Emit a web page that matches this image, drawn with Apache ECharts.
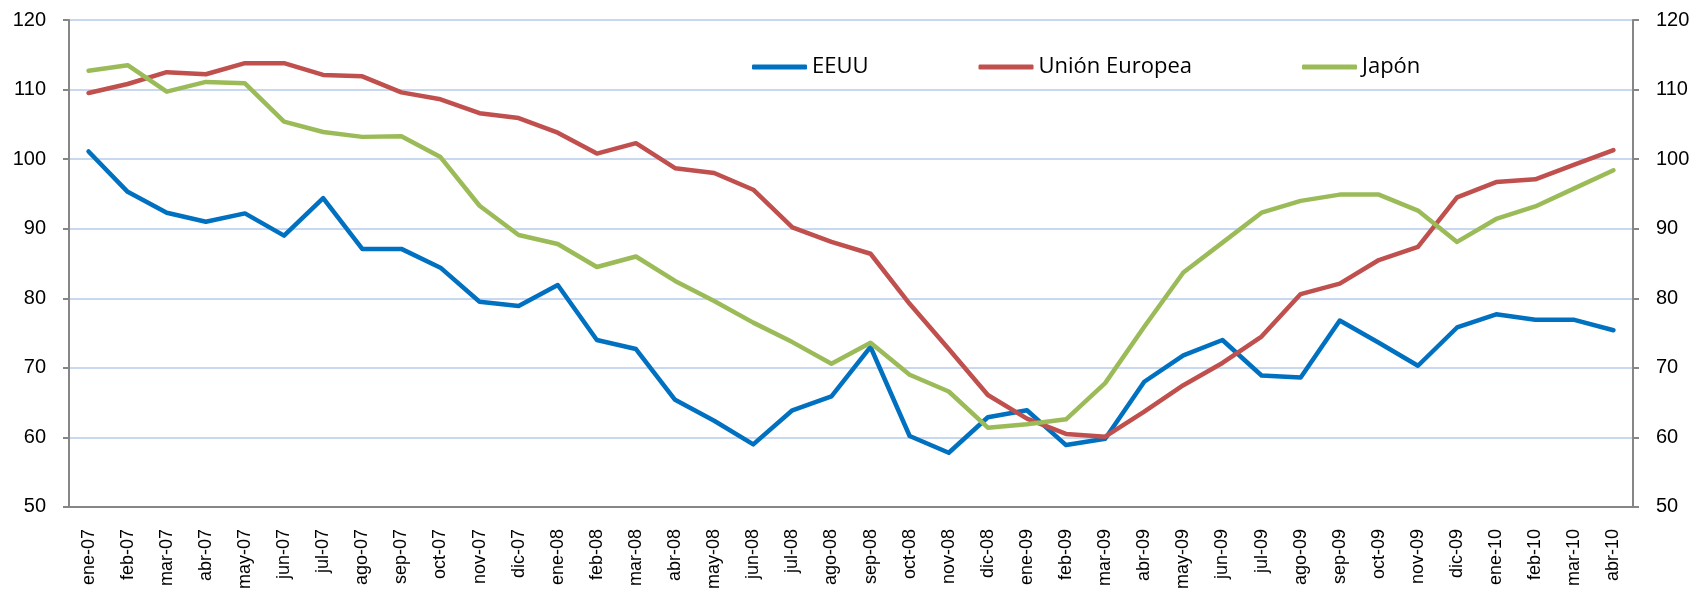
<!DOCTYPE html>
<html>
<head>
<meta charset="utf-8">
<script src="https://cdn.jsdelivr.net/npm/echarts@6/dist/echarts.min.js"></script>
<style>
html,body{margin:0;padding:0;background:#fff;}
#chart{width:1702px;height:592px;}
</style>
</head>
<body>
<div id="chart"></div>
<script>
const categories = ['ene-07','feb-07','mar-07','abr-07','may-07','jun-07','jul-07','ago-07','sep-07','oct-07','nov-07','dic-07',
  'ene-08','feb-08','mar-08','abr-08','may-08','jun-08','jul-08','ago-08','sep-08','oct-08','nov-08','dic-08',
  'ene-09','feb-09','mar-09','abr-09','may-09','jun-09','jul-09','ago-09','sep-09','oct-09','nov-09','dic-09',
  'ene-10','feb-10','mar-10','abr-10'];

const eeuu = [101.1,95.3,92.3,91.0,92.2,89.0,94.4,87.1,87.1,84.4,79.5,78.9,
  81.9,74.0,72.7,65.4,62.4,59.0,63.9,65.9,73.0,60.2,57.8,62.9,
  63.9,58.9,59.8,68.0,71.8,74.0,68.9,68.6,76.8,73.6,70.3,75.8,
  77.7,76.9,76.9,75.4];

const ue = [109.5,110.8,112.5,112.2,113.8,113.8,112.1,111.9,109.6,108.6,106.6,105.9,
  103.8,100.8,102.3,98.7,98.0,95.6,90.2,88.1,86.4,79.2,72.7,66.1,
  62.7,60.5,60.1,63.7,67.5,70.7,74.5,80.6,82.1,85.5,87.4,94.5,
  96.7,97.1,99.2,101.3];

const japon = [112.7,113.5,109.7,111.1,110.9,105.4,103.9,103.2,103.3,100.3,93.3,89.1,
  87.8,84.5,86.0,82.5,79.6,76.5,73.7,70.6,73.6,69.0,66.6,61.4,
  61.9,62.6,67.8,75.9,83.7,88.0,92.3,94.0,94.9,94.9,92.6,88.1,
  91.4,93.2,95.8,98.4];

const yTicks = {min: 50, max: 120, interval: 10};

const chart = echarts.init(document.getElementById('chart'), null, {renderer: 'canvas'});

const fontArial = '"Liberation Sans", Arial, sans-serif';

function yAxis(pos) {
  return {
    type: 'value', position: pos,
    min: yTicks.min, max: yTicks.max, interval: yTicks.interval,
    axisLine: {show: true, lineStyle: {color: '#868686', width: 2}},
    axisTick: {show: true, length: 6, inside: false, lineStyle: {color: '#868686', width: 2}},
    axisLabel: {margin: 23, color: '#000', fontFamily: fontArial, fontSize: 20},
    splitLine: {show: pos === 'left', lineStyle: {color: '#c8d8f0', width: 2}}
  };
}

function line(name, data, color) {
  return {
    name, type: 'line', data, yAxisIndex: 0,
    symbol: 'none', smooth: false,
    lineStyle: {color, width: 4.5, cap: 'round', join: 'round'},
    itemStyle: {color},
    emphasis: {disabled: true},
    animation: false
  };
}

chart.setOption({
  animation: false,
  backgroundColor: '#fff',
  grid: {left: 69, right: 69, top: 20, bottom: 82, containLabel: false},
  legend: {
    left: 747, top: 49,
    icon: 'roundRect',
    itemWidth: 55, itemHeight: 5, itemGap: 110,
    textStyle: {color: '#000', fontFamily: '"Open Sans", "Noto Sans", sans-serif', fontSize: 22, lineHeight: 26},
    data: ['EEUU', 'Unión Europea', 'Japón']
  },
  xAxis: {
    type: 'category', data: categories, boundaryGap: true,
    axisLine: {show: true, lineStyle: {color: '#868686', width: 2}},
    axisTick: {show: false},
    axisLabel: {rotate: 90, interval: 0, margin: 22, color: '#000', fontFamily: fontArial, fontSize: 18},
    splitLine: {show: false}
  },
  yAxis: [yAxis('left'), yAxis('right')],
  series: [
    line('EEUU', eeuu, '#0070c0'),
    line('Unión Europea', ue, '#c0504d'),
    line('Japón', japon, '#9bbb59')
  ]
});
</script>
</body>
</html>
